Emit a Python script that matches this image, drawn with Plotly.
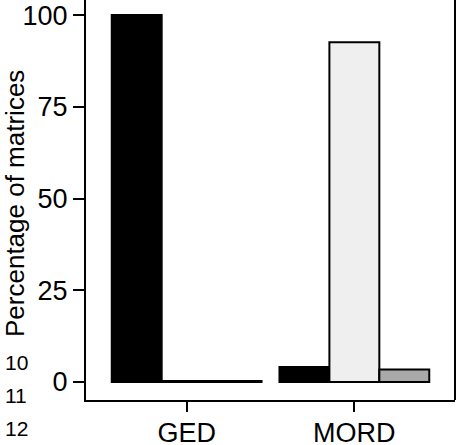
import plotly.graph_objects as go

categories = ["GED", "MORD"]
series_names = ["Series 1", "Series 2", "Series 3"]
series_values = [
    [100.0, 4.1],
    [0.0, 92.6],
    [0.0, 3.4],
]
series_colors = ["#000000", "#efefef", "#a9a9a9"]
y_ticks = [0, 25, 50, 75, 100]
side_labels = ["10", "11", "12"]
y_title = "Percentage of matrices"

FONT = "Liberation Sans, Arial, sans-serif"
FIG_W, FIG_H = 457, 445
M_L, M_R, M_T, M_B = 86, 2, 0, 45
PLOT_W = FIG_W - M_L - M_R
PLOT_H = FIG_H - M_T - M_B

fig = go.Figure()
for name, vals, col in zip(series_names, series_values, series_colors):
    shown = [v if v > 0 else 0.25 for v in vals]
    fig.add_trace(go.Bar(
        x=categories, y=shown, name=name,
        marker=dict(color=col, line=dict(color="black", width=2)),
        showlegend=False,
    ))

fig.update_layout(
    width=FIG_W, height=FIG_H,
    margin=dict(l=M_L, r=M_R, t=M_T, b=M_B, autoexpand=False),
    paper_bgcolor="white", plot_bgcolor="white",
    barmode="group", bargap=0.107, bargroupgap=0,
    font=dict(family=FONT, color="black"),
)
fig.update_xaxes(
    range=[-0.6, 1.6], showgrid=False, zeroline=False, automargin=False,
    showline=True, linecolor="black", linewidth=2,
    ticks="outside", ticklen=10, tickwidth=2, tickcolor="black",
    tickfont=dict(size=27, family=FONT, color="black"),
    ticklabeloverflow="allow", ticklabelstandoff=-2,
)
fig.update_yaxes(
    range=[-4.9, 104.1], showgrid=False, zeroline=False, automargin=False,
    showline=True, linecolor="black", linewidth=2,
    tickvals=y_ticks, ticktext=[str(t) for t in y_ticks],
    ticks="outside", ticklen=11, tickwidth=2, tickcolor="black",
    tickfont=dict(size=27, family=FONT, color="black"),
    ticklabeloverflow="allow",
)
fig.add_shape(type="line", xref="paper", yref="paper", x0=1, x1=1, y0=0, y1=1,
              line=dict(color="black", width=2))

fig.add_annotation(text=y_title, textangle=-90, xref="paper", yref="paper",
                   x=(15 - M_L) / PLOT_W, y=(PLOT_H - 204) / PLOT_H,
                   xanchor="center", yanchor="middle", showarrow=False,
                   font=dict(size=26, family=FONT, color="black"))

label_y_px = [362, 395, 428]
for lab, py in zip(side_labels, label_y_px):
    fig.add_annotation(text=lab, xref="paper", yref="paper",
                       x=(3 - M_L) / PLOT_W, y=(PLOT_H - py) / PLOT_H, xanchor="left", yanchor="middle",
                       showarrow=False, font=dict(size=21, family=FONT, color="black"))

fig.write_html("out.html", config={"displayModeBar": False},
               post_script="document.body.style.margin='0';")
